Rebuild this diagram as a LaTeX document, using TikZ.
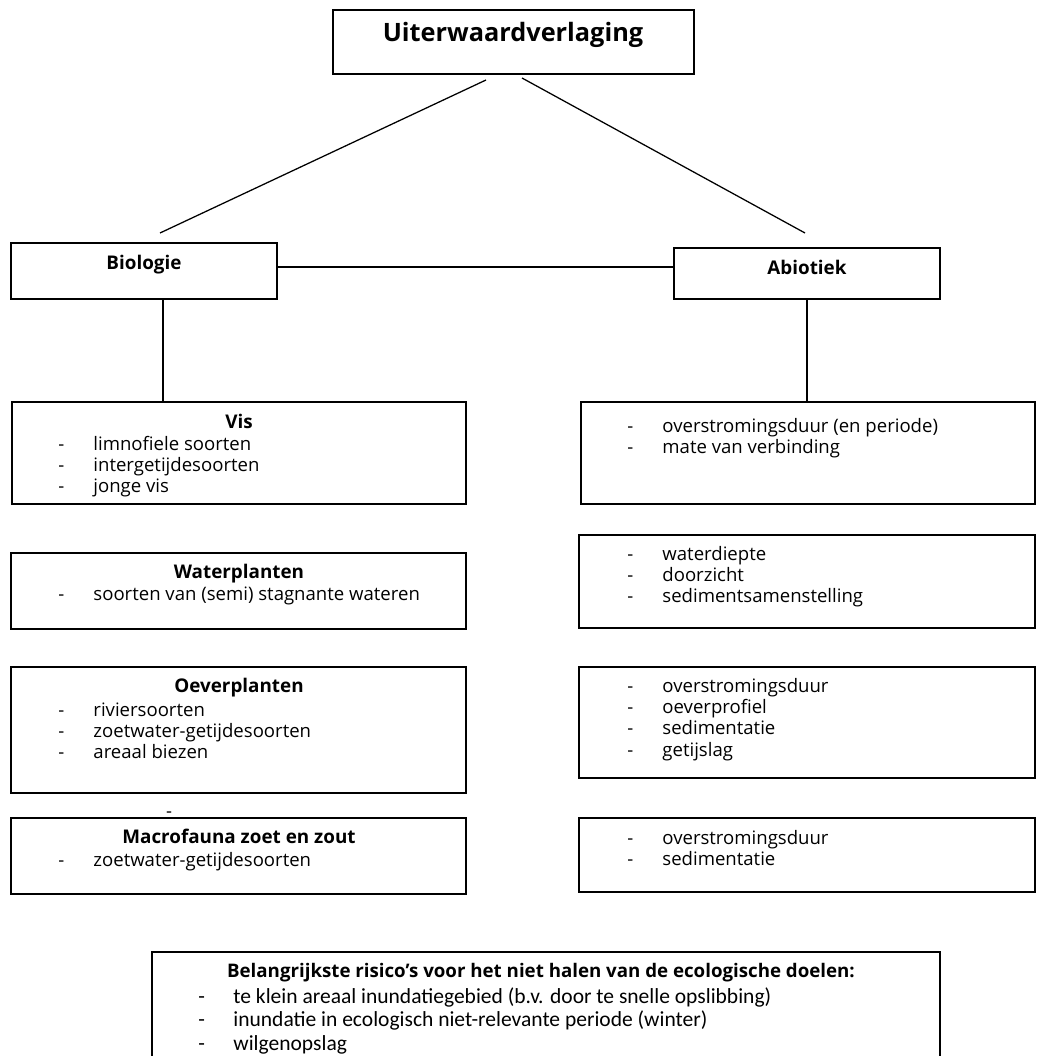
\documentclass[tikz,border=0pt]{standalone}
\usepackage{fontspec}
\setmainfont{Open Sans}
\newfontfamily\narrowfont{Carlito}
\usetikzlibrary{fit}
\tikzset{
  box/.style={draw, line width=1.3pt, inner sep=0pt, rectangle},
  conn/.style={line width=0.9pt},
  ttl/.style={font=\fontsize{13.4pt}{15.2pt}\selectfont\bfseries, inner sep=0pt, anchor=base},
  lst/.style={font=\fontsize{13.2pt}{15.2pt}\selectfont, inner sep=0pt, anchor=base west},
  lstb/.style={font=\narrowfont\fontsize{15.3pt}{17pt}\selectfont, inner sep=0pt, anchor=base west},
}
\newcommand\dashlist[1]{\begin{tabular}[t]{@{}p{25pt}@{}l@{}}#1\end{tabular}}
\begin{document}
\begin{tikzpicture}[x=0.025cm,y=-0.025cm]
\useasboundingbox (0,0) rectangle (1038,1056);
\clip (0,0) rectangle (1038,1056);
\fill[white] (0,0) rectangle (1038,1056);

% top
\node[box, fit={(333,10) (694,74)}] (top) {};
\node[font=\fontsize{18pt}{20pt}\selectfont\bfseries, inner sep=0pt, anchor=base] (toptxt) at (513,42) {Uiterwaardverlaging};

% second level
\node[box, fit={(11,243) (277,299)}] (bio) {};
\node[ttl] (biotxt) at (144,270) {Biologie};
\node[box, fit={(674,248) (940,299)}] (abio) {};
\node[ttl] (abiotxt) at (807,275) {Abiotiek};

% left column
\node[box, fit={(12,402) (466,504)}] (vis) {};
\node[ttl] (vist) at (239,428) {Vis};
\node[lst] (visl) at (58,450) {\dashlist{- & limnofiele soorten\\ - & intergetijdesoorten\\ - & jonge vis}};

\node[box, fit={(11,553) (466,629)}] (wp) {};
\node[ttl] (wpt) at (239,578) {Waterplanten};
\node[lst] (wpl) at (58,600) {\dashlist{- & soorten van (semi) stagnante wateren}};

\node[box, fit={(11,667) (466,793)}] (op) {};
\node[ttl] (opt) at (239,692) {Oeverplanten};
\node[lst] (opl) at (58,716) {\dashlist{- & riviersoorten\\ - & zoetwater-getijdesoorten\\ - & areaal biezen}};

\node[lst, anchor=base] (stray) at (169,817) {-};

\node[box, fit={(11,818) (466,894)}] (mf) {};
\node[ttl] (mft) at (239,843) {Macrofauna zoet en zout};
\node[lst] (mfl) at (58,866) {\dashlist{- & zoetwater-getijdesoorten}};

% right column
\node[box, fit={(581,402) (1035,504)}] (r1) {};
\node[lst] (r1l) at (627,432) {\dashlist{- & overstromingsduur (en periode)\\ - & mate van verbinding}};

\node[box, fit={(579,535) (1035,628)}] (r2) {};
\node[lst] (r2l) at (627,560) {\dashlist{- & waterdiepte\\ - & doorzicht\\ - & sedimentsamenstelling}};

\node[box, fit={(579,667) (1035,778)}] (r3) {};
\node[lst] (r3l) at (627,692) {\dashlist{- & overstromingsduur\\ - & oeverprofiel\\ - & sedimentatie\\ - & getijslag}};

\node[box, fit={(579,818) (1035,892)}] (r4) {};
\node[lst] (r4l) at (627,844) {\dashlist{- & overstromingsduur\\ - & sedimentatie}};

% bottom box
\node[box, fit={(152,952) (940,1090)}] (risk) {};
\node[ttl, font=\fontsize{13.3pt}{15pt}\selectfont\bfseries] (riskt) at (541,977) {Belangrijkste risico's voor het niet halen van de ecologische doelen:};
\node[lstb] (riskl) at (198,1003) {\dashlist{- & te klein areaal inundatiegebied (b.v. door te snelle opslibbing)\\ - & inundatie in ecologisch niet-relevante periode (winter)\\ - & wilgenopslag}};

% connectors
\coordinate (tl1) at (486,80);
\coordinate (tl2) at (160,233);
\coordinate (tr1) at (522,78);
\coordinate (tr2) at (805,233);
\draw[conn] (tl1) -- (tl2);
\draw[conn] (tr1) -- (tr2);
\coordinate (hy) at (0,267);
\draw[conn] (bio.east |- hy) -- (abio.west |- hy);
\coordinate (bx) at (163,0);
\draw[conn] (bio.south -| bx) -- (vis.north -| bx);
\draw[conn] (abio.south) -- (abio.south |- r1.north);
\end{tikzpicture}
\end{document}
